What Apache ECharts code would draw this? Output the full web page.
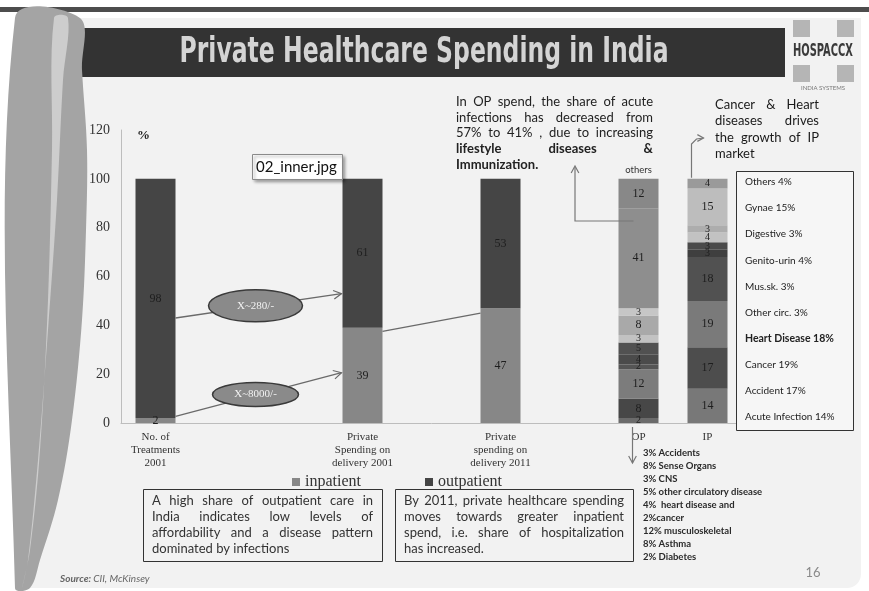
<!DOCTYPE html>
<html>
<head>
<meta charset="utf-8">
<script src="https://cdn.jsdelivr.net/npm/echarts@6/dist/echarts.min.js"></script>
<style>
  html, body { margin: 0; padding: 0; background: #ffffff; }
  #chart { width: 869px; height: 591px; }
</style>
</head>
<body>
<div id="chart"></div>
<script>
// ---- data ----
const categories = ['No. of\nTreatments\n2001', '', '', 'Private\nSpending on\ndelivery 2001', '', 'Private\nspending on\ndelivery 2011', '', 'OP', 'IP'];
const inpatient  = [2, null, null, 39, null, 47, null, null, null];
const outpatient = [98, null, null, 61, null, 53, null, null, null];

// OP spend by disease, bottom to top (%)
const opCauses = ['Diabetes', 'Asthma', 'Musculoskeletal', 'Cancer', 'Heart disease', 'Other circulatory disease', 'CNS', 'Sense Organs', 'Accidents', 'Acute Infection', 'Others'];
const opShares = [2, 8, 12, 2, 4, 5, 3, 8, 3, 41, 12];

// IP spend by disease, bottom to top (%)
const ipCauses = ['Acute Infection', 'Accident', 'Cancer', 'Heart Disease', 'Other circ.', 'Mus.sk.', 'Genito-urin', 'Digestive', 'Gynae', 'Others'];
const ipShares = [14, 17, 19, 18, 3, 3, 4, 3, 15, 4];

const yTicks = { min: 0, max: 120, step: 20 };

// breakdown listed under the OP bar
const opNotes = ['3% Accidents', '8% Sense Organs', '3% CNS', '5% other circulatory disease', '4%  heart disease and', '2%cancer', '12% musculoskeletal', '8% Asthma', '2% Diabetes'];

// ---- styles ----
const opColors = ['#6b6b6b', '#474747', '#7c7c7c', '#555555', '#4b4b4b', '#515151', '#c2c2c2', '#a9a9a9', '#c6c6c6', '#8e8e8e', '#888888'];
const ipColors = ['#787878', '#4d4d4d', '#7a7a7a', '#515151', '#3f3f3f', '#4a4a4a', '#c2c2c2', '#adadad', '#bdbdbd', '#9a9a9a'];
const SERIF = "'Liberation Serif', 'DejaVu Serif', serif";
const SANS = "Lato, 'Noto Sans', sans-serif";
const OP_IDX = 7, IP_IDX = 8;

const toSeries = arr => arr.map(v => (v === null ? '-' : v));
const barLabel = size => ({
  show: true, position: 'inside', color: '#1e1e1e', fontFamily: SERIF, fontSize: size,
  textBorderWidth: 0, formatter: p => p.value
});

const series = [
  { name: 'inpatient', type: 'bar', stack: 'share', barWidth: 40, data: toSeries(inpatient),
    itemStyle: { color: '#878787' }, label: barLabel(12) },
  { name: 'outpatient', type: 'bar', stack: 'share', barWidth: 40, data: toSeries(outpatient),
    itemStyle: { color: '#454545' }, label: barLabel(12) }
];
opShares.forEach((v, i) => series.push({
  name: 'OP ' + opCauses[i], type: 'bar', stack: 'share', barWidth: 40,
  data: categories.map((c, k) => (k === OP_IDX ? v : '-')),
  itemStyle: { color: opColors[i] }, label: barLabel(v <= 5 ? 10 : 12)
}));
ipShares.forEach((v, i) => series.push({
  name: 'IP ' + ipCauses[i], type: 'bar', stack: 'share', barWidth: 40,
  data: categories.map((c, k) => (k === IP_IDX ? v : '-')),
  itemStyle: { color: ipColors[i] }, label: barLabel(v <= 5 ? 10 : 12)
}));

const chart = echarts.init(document.getElementById('chart'), null, { renderer: 'canvas' });

chart.setOption({
  animation: false,
  grid: { left: 121, right: 127, top: 130, bottom: 168, containLabel: false },
  legend: {
    data: ['inpatient', 'outpatient'], left: 287, top: 469, icon: 'rect',
    itemWidth: 8, itemHeight: 8, itemGap: 64,
    textStyle: { fontFamily: SERIF, fontSize: 16, color: '#333' }
  },
  xAxis: {
    type: 'category', data: categories,
    axisLine: { lineStyle: { color: '#bdbdbd', width: 1 } },
    axisTick: { show: false },
    axisLabel: { interval: 0, fontFamily: SERIF, fontSize: 11, color: '#333', lineHeight: 13.3, margin: 7 }
  },
  yAxis: {
    type: 'value', min: yTicks.min, max: yTicks.max, interval: yTicks.step,
    axisLine: { show: true, lineStyle: { color: '#bdbdbd', width: 1 } },
    axisTick: { show: false },
    splitLine: { show: false },
    axisLabel: { fontFamily: SERIF, fontSize: 14, color: '#333', margin: 11 }
  },
  series: series
});

// ---- annotations ----
const ctx = document.createElement('canvas').getContext('2d');
const measure = (t, font) => { ctx.font = font; return ctx.measureText(t).width; };

function textEl(t, x, y, font, fill, align, z) {
  return { type: 'text', x: x, y: y, z: z || 60,
    style: { text: t, font: font, fill: fill, textAlign: align || 'left', textVerticalAlign: 'middle', verticalAlign: 'middle' } };
}

// paragraph with justified lines (last line left aligned)
function paragraph(lines, x0, x1, y0, lh, fill) {
  const out = [];
  lines.forEach((ln, i) => {
    const y = y0 + i * lh;
    const words = ln.t.split(' ').filter(w => w.length);
    if (!ln.j || words.length < 2) { out.push(textEl(ln.t, x0, y, ln.f, fill)); return; }
    const widths = words.map(w => measure(w, ln.f));
    const total = widths.reduce((a, b) => a + b, 0);
    const gap = (x1 - x0 - total) / (words.length - 1);
    let x = x0;
    words.forEach((w, k) => { out.push(textEl(w, x, y, ln.f, fill)); x += widths[k] + gap; });
  });
  return out;
}

function arrowHead(x, y, ang, len, color) {
  const a1 = ang + Math.PI - 0.5, a2 = ang + Math.PI + 0.5;
  return { type: 'polyline', z: 60,
    shape: { points: [[x + len * Math.cos(a1), y + len * Math.sin(a1)], [x, y], [x + len * Math.cos(a2), y + len * Math.sin(a2)]] },
    style: { stroke: color, lineWidth: 1.2 } };
}
function arrowLine(p0, p1, color, head) {
  const els = [{ type: 'line', z: 55, shape: { x1: p0[0], y1: p0[1], x2: p1[0], y2: p1[1] }, style: { stroke: color, lineWidth: 1.3 } }];
  if (head) els.push(arrowHead(p1[0], p1[1], Math.atan2(p1[1] - p0[1], p1[0] - p0[0]), 9, color));
  return els;
}

const px = (i, v) => chart.convertToPixel({ xAxisIndex: 0, yAxisIndex: 0 }, [i, v]);
const half = 20;

const g = [];

// slide background and frame
g.push({ type: 'rect', z: -20, shape: { x: 0, y: 7, width: 869, height: 5 }, style: { fill: '#4d4d4d' } });
g.push({ type: 'rect', z: -20, shape: { x: 15, y: 18, width: 846, height: 570, r: [0, 0, 14, 0] }, style: { fill: '#f2f2f2' } });
g.push({ type: 'rect', z: -19, shape: { x: 60, y: 28, width: 725, height: 49 }, style: { fill: '#333333' } });
// left swoosh
g.push({ type: 'polygon', z: -18, shape: { smooth: 0.35, points: [[15, 18], [80, 18], [82, 70], [87, 150], [86, 230], [82, 320], [72, 420], [58, 500], [40, 560], [30, 588], [15, 588]] },
  style: { fill: '#a4a4a4' } });
g.push({ type: 'polygon', z: -17, shape: { smooth: 0.35, points: [[54, 18], [52, 150], [48, 300], [40, 450], [30, 550], [22, 588], [28, 560], [38, 460], [48, 330], [57, 200], [63, 80], [68, 18]] },
  style: { fill: '#cdcdcd' } });

// title
const titleFont = "bold 34px 'Liberation Sans Narrow', 'DejaVu Sans Condensed', Roboto, sans-serif";
const titleText = 'Private Healthcare Spending in India';
const tw = measure(titleText, titleFont);
g.push({ type: 'text', x: 424, y: 53, z: 60, scaleX: 489 / tw, scaleY: 1.05,
  style: { text: titleText, font: titleFont, fill: '#d4d4d4', textAlign: 'center', textVerticalAlign: 'middle', verticalAlign: 'middle' } });

// logo
[[793, 20], [837, 20], [793, 65], [837, 65]].forEach(p => g.push({ type: 'rect', z: -15, shape: { x: p[0], y: p[1], width: 17, height: 17 }, style: { fill: '#b5b5b5' } }));
const logoFont = "bold 16px 'Liberation Sans Narrow', 'DejaVu Sans Condensed', sans-serif";
const lw = measure('HOSPACCX', logoFont);
g.push({ type: 'text', x: 823, y: 51, z: 60, scaleX: 60 / lw, scaleY: 1.1,
  style: { text: 'HOSPACCX', font: logoFont, fill: '#3a3a3a', textAlign: 'center', textVerticalAlign: 'middle', verticalAlign: 'middle' } });
g.push(textEl('INDIA SYSTEMS', 823, 88, "6px " + SANS, '#777', 'center'));

// axis unit
g.push(textEl('%', 137, 136, 'bold 13px ' + SERIF, '#222'));

// image caption box
g.push({ type: 'rect', z: 58, shape: { x: 252.5, y: 154.5, width: 90, height: 25 },
  style: { fill: '#ffffff', stroke: '#8a8a8a', lineWidth: 1, shadowBlur: 3, shadowOffsetX: 2, shadowOffsetY: 2, shadowColor: 'rgba(0,0,0,0.35)' } });
g.push(textEl('02_inner.jpg', 256, 167, '15px ' + SANS, '#111'));

// cost arrows between the first two bars
const a1s = px(0, 43), a1e = px(3, 53);
const a2s = px(0, 2.7), a2e = px(3, 20.6);
const p1 = [a1s[0] + half, a1s[1]], p2 = [a1e[0] - half - 1, a1e[1]];
const p3 = [a2s[0] + half, a2s[1]], p4 = [a2e[0] - half - 1, a2e[1]];
arrowLine(p1, p2, '#6a6a6a', true).forEach(e => g.push(e));
arrowLine(p3, p4, '#6a6a6a', true).forEach(e => g.push(e));
const l3s = px(3, 37.5), l3e = px(5, 45);
arrowLine([l3s[0] + half, l3s[1]], [l3e[0] - half, l3e[1]], '#6a6a6a', false).forEach(e => g.push(e));

function ellipse(cx, cy, rx, ry, label) {
  g.push({ type: 'ellipse', z: 59, shape: { cx: cx, cy: cy, rx: rx, ry: ry }, style: { fill: '#8a8a8a', stroke: '#3a3a3a', lineWidth: 1.5 } });
  g.push(textEl(label, cx, cy, '11px ' + SERIF, '#f2f2f2', 'center', 61));
}
ellipse((p1[0] + p2[0]) / 2 - 3, (p1[1] + p2[1]) / 2, 47, 16, 'X~280/-');
ellipse((p3[0] + p4[0]) / 2 - 3, (p3[1] + p4[1]) / 2, 43, 12, 'X~8000/-');

// OP annotation
const f13 = '13px ' + SANS, f13b = 'bold 13px ' + SANS;
paragraph([
  { t: 'In OP spend, the share of acute', j: true, f: f13 },
  { t: 'infections has decreased from', j: true, f: f13 },
  { t: '57% to 41% , due to increasing', j: true, f: f13 },
  { t: 'lifestyle diseases &', j: true, f: f13b },
  { t: 'Immunization.', j: false, f: f13b }
], 456, 653, 102, 15.6, '#222').forEach(e => g.push(e));

const opTop = px(OP_IDX, 100), ipTop = px(IP_IDX, 100), opBase = px(OP_IDX, 0);
g.push(textEl('others', opTop[0], 170, '9.5px ' + SANS, '#333', 'center'));
g.push({ type: 'polyline', z: 55, shape: { points: [[opTop[0] - 5, 221], [575, 221], [575, 167]] }, style: { stroke: '#777', lineWidth: 1.2 } });
g.push(arrowHead(575, 166, -Math.PI / 2, 8, '#777'));

// IP annotation
paragraph([
  { t: 'Cancer & Heart', j: true, f: f13 },
  { t: 'diseases drives', j: true, f: f13 },
  { t: 'the growth of IP', j: true, f: f13 },
  { t: 'market', j: false, f: f13 }
], 715, 819, 105, 16.3, '#1a1a1a').forEach(e => g.push(e));
g.push({ type: 'polyline', z: 55, shape: { points: [[ipTop[0] - 16, ipTop[1] - 1], [ipTop[0] - 16, 144], [ipTop[0] - 11, 139], [ipTop[0] - 4, 138]] }, style: { stroke: '#777', lineWidth: 1.2 } });
g.push(arrowHead(ipTop[0] - 4, 138, 0, 7, '#777'));

// IP category box
g.push({ type: 'rect', z: 50, shape: { x: 736.5, y: 171.5, width: 117, height: 259 }, style: { fill: '#f6f6f6', stroke: '#333', lineWidth: 1 } });
ipCauses.slice().reverse().forEach((c, i) => {
  const v = ipShares[ipShares.length - 1 - i];
  const bold = c === 'Heart Disease';
  g.push(textEl(c + ' ' + v + '%', 745, 182 + i * 26.1, (bold ? 'bold 10.5px ' : '10px ') + SANS, '#222'));
});

// OP breakdown list
g.push({ type: 'line', z: 55, shape: { x1: opBase[0] - 6, y1: 427, x2: opBase[0] - 6, y2: 463 }, style: { stroke: '#777', lineWidth: 1.2 } });
g.push(arrowHead(opBase[0] - 6, 463, Math.PI / 2, 8, '#777'));
opNotes.forEach((t, i) => g.push(textEl(t, 643, 453 + i * 13, 'bold 9.5px ' + SANS, '#2a2a2a')));

// text boxes
g.push({ type: 'rect', z: 50, shape: { x: 143.5, y: 489.5, width: 239, height: 72 }, style: { fill: 'transparent', stroke: '#333', lineWidth: 1 } });
g.push({ type: 'rect', z: 50, shape: { x: 395.5, y: 489.5, width: 238, height: 72 }, style: { fill: 'transparent', stroke: '#333', lineWidth: 1 } });
paragraph([
  { t: 'A high share of outpatient care in', j: true, f: f13 },
  { t: 'India indicates low levels of', j: true, f: f13 },
  { t: 'affordability and a disease pattern', j: true, f: f13 },
  { t: 'dominated by infections', j: false, f: f13 }
], 152, 373, 501, 15.8, '#333').forEach(e => g.push(e));
paragraph([
  { t: 'By 2011, private healthcare spending', j: true, f: f13 },
  { t: 'moves towards greater inpatient', j: true, f: f13 },
  { t: 'spend, i.e. share of hospitalization', j: true, f: f13 },
  { t: 'has increased.', j: false, f: f13 }
], 404, 624, 501, 15.8, '#333').forEach(e => g.push(e));

// footer
g.push(textEl('Source:', 60, 579, 'italic bold 10px ' + SANS, '#666'));
g.push(textEl('CII, McKinsey', 60 + measure('Source: ', 'italic bold 10px ' + SANS), 579, 'italic 10px ' + SANS, '#666'));
g.push(textEl('16', 813, 573, '13px ' + SANS, '#8a8a8a', 'center'));

chart.setOption({ graphic: { elements: g } });
</script>
</body>
</html>
